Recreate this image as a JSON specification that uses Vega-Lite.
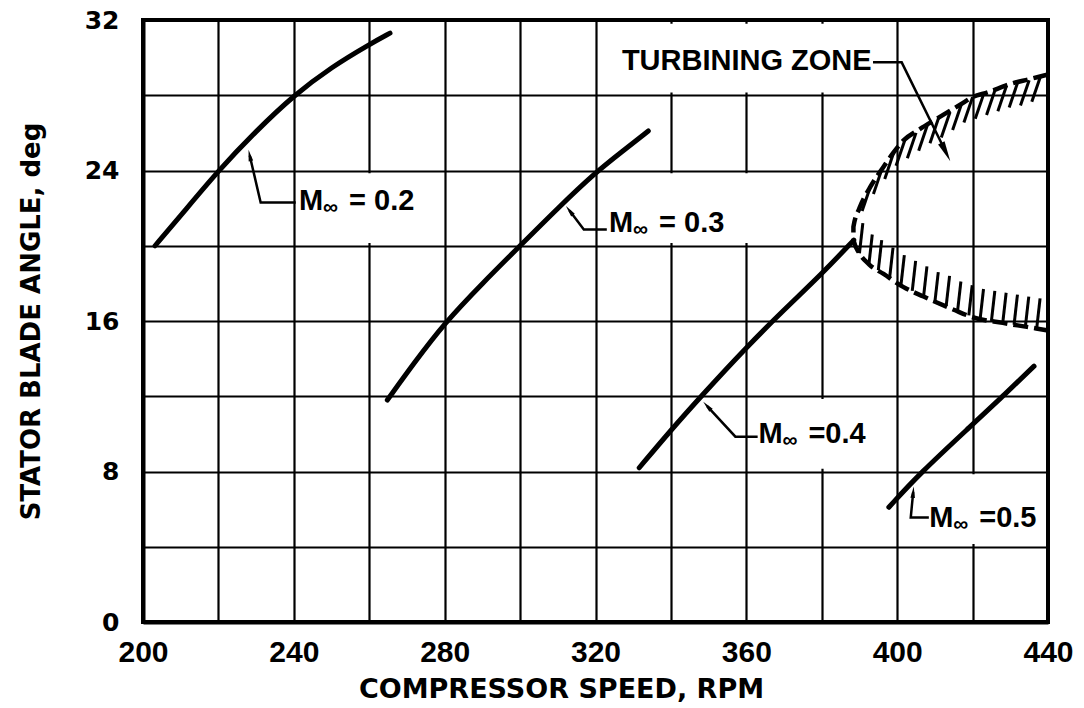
{
  "$schema": "https://vega.github.io/schema/vega-lite/v6.json",
  "width": 905,
  "height": 602,
  "autosize": {"type": "none"},
  "padding": {"left": 143, "top": 20, "right": 36, "bottom": 86},
  "background": "white",
  "config": {
    "view": {"stroke": "black", "strokeWidth": 4},
    "font": "Liberation Sans",
    "axis": {
      "grid": true, "gridColor": "black", "gridWidth": 2.2, "gridOpacity": 1,
      "ticks": false, "domain": true, "domainColor": "black", "domainWidth": 4,
      "labelFont": "Liberation Sans", "labelFontWeight": "bold", "labelColor": "black",
      "titleFont": "DejaVu Sans", "titleFontWeight": "bold", "titleColor": "black"
    }
  },
  "datasets": {
    "curves": [
      {"series": "0.2", "rpm": 203.2, "angle": 20.0},
      {"series": "0.2", "rpm": 210, "angle": 21.6},
      {"series": "0.2", "rpm": 220, "angle": 24.0},
      {"series": "0.2", "rpm": 230, "angle": 26.1},
      {"series": "0.2", "rpm": 240, "angle": 28.0},
      {"series": "0.2", "rpm": 250, "angle": 29.5},
      {"series": "0.2", "rpm": 260, "angle": 30.7},
      {"series": "0.2", "rpm": 265.5, "angle": 31.3},
      {"series": "0.3", "rpm": 264.8, "angle": 11.8},
      {"series": "0.3", "rpm": 272, "angle": 13.8},
      {"series": "0.3", "rpm": 280, "angle": 15.9},
      {"series": "0.3", "rpm": 290, "angle": 18.0},
      {"series": "0.3", "rpm": 300, "angle": 20.0},
      {"series": "0.3", "rpm": 310, "angle": 22.0},
      {"series": "0.3", "rpm": 320, "angle": 23.9},
      {"series": "0.3", "rpm": 327, "angle": 25.0},
      {"series": "0.3", "rpm": 334, "angle": 26.1},
      {"series": "0.4", "rpm": 331.6, "angle": 8.2},
      {"series": "0.4", "rpm": 340, "angle": 10.2},
      {"series": "0.4", "rpm": 348, "angle": 12.0},
      {"series": "0.4", "rpm": 360, "angle": 14.6},
      {"series": "0.4", "rpm": 370, "angle": 16.6},
      {"series": "0.4", "rpm": 380, "angle": 18.5},
      {"series": "0.4", "rpm": 388.5, "angle": 20.3},
      {"series": "0.5", "rpm": 397.8, "angle": 6.1},
      {"series": "0.5", "rpm": 406, "angle": 7.9},
      {"series": "0.5", "rpm": 420, "angle": 10.5},
      {"series": "0.5", "rpm": 428, "angle": 12.0},
      {"series": "0.5", "rpm": 436.3, "angle": 13.6}
    ],
    "zone": [
      {"i": 1, "rpm": 440, "angle": 29.1},
      {"i": 2, "rpm": 435, "angle": 28.85},
      {"i": 3, "rpm": 430, "angle": 28.6},
      {"i": 4, "rpm": 424, "angle": 28.15},
      {"i": 5, "rpm": 420, "angle": 27.9},
      {"i": 6, "rpm": 416.7, "angle": 27.5},
      {"i": 7, "rpm": 410.5, "angle": 26.75},
      {"i": 8, "rpm": 406, "angle": 26.2},
      {"i": 9, "rpm": 401.7, "angle": 25.6},
      {"i": 10, "rpm": 399, "angle": 24.95},
      {"i": 11, "rpm": 396.4, "angle": 24.2},
      {"i": 12, "rpm": 392.8, "angle": 23.1},
      {"i": 13, "rpm": 390, "angle": 22.0},
      {"i": 14, "rpm": 388.4, "angle": 21.0},
      {"i": 15, "rpm": 388.4, "angle": 20.3},
      {"i": 16, "rpm": 390, "angle": 19.6},
      {"i": 17, "rpm": 392.6, "angle": 19.0},
      {"i": 18, "rpm": 396.4, "angle": 18.5},
      {"i": 19, "rpm": 401.7, "angle": 17.8},
      {"i": 20, "rpm": 407, "angle": 17.3},
      {"i": 21, "rpm": 415, "angle": 16.6},
      {"i": 22, "rpm": 420, "angle": 16.2},
      {"i": 23, "rpm": 428, "angle": 15.9},
      {"i": 24, "rpm": 434, "angle": 15.7},
      {"i": 25, "rpm": 440, "angle": 15.5}
    ],
    "hatch": [
      {"rpm": 390.7, "angle": 21.85, "rpm2": 393, "angle2": 23.2},
      {"rpm": 393.7, "angle": 22.75, "rpm2": 396, "angle2": 24.1},
      {"rpm": 396.7, "angle": 23.55, "rpm2": 399, "angle2": 24.9},
      {"rpm": 399.7, "angle": 24.25, "rpm2": 402, "angle2": 25.6},
      {"rpm": 402.7, "angle": 24.65, "rpm2": 405, "angle2": 26.0},
      {"rpm": 405.7, "angle": 25.05, "rpm2": 408, "angle2": 26.4},
      {"rpm": 408.7, "angle": 25.45, "rpm2": 411, "angle2": 26.8},
      {"rpm": 411.7, "angle": 25.75, "rpm2": 414, "angle2": 27.1},
      {"rpm": 414.7, "angle": 26.15, "rpm2": 417, "angle2": 27.5},
      {"rpm": 417.7, "angle": 26.55, "rpm2": 420, "angle2": 27.9},
      {"rpm": 420.7, "angle": 26.75, "rpm2": 423, "angle2": 28.1},
      {"rpm": 423.7, "angle": 26.95, "rpm2": 426, "angle2": 28.3},
      {"rpm": 426.7, "angle": 27.15, "rpm2": 429, "angle2": 28.5},
      {"rpm": 429.7, "angle": 27.35, "rpm2": 432, "angle2": 28.7},
      {"rpm": 432.7, "angle": 27.45, "rpm2": 435, "angle2": 28.8},
      {"rpm": 435.7, "angle": 27.65, "rpm2": 438, "angle2": 29.0},
      {"rpm": 390, "angle": 19.6, "rpm2": 390.9, "angle2": 21.2},
      {"rpm": 392.5, "angle": 19.0, "rpm2": 393.4, "angle2": 20.6},
      {"rpm": 395, "angle": 18.7, "rpm2": 395.9, "angle2": 20.3},
      {"rpm": 398, "angle": 18.3, "rpm2": 398.9, "angle2": 19.9},
      {"rpm": 401, "angle": 17.9, "rpm2": 401.9, "angle2": 19.5},
      {"rpm": 404, "angle": 17.6, "rpm2": 404.9, "angle2": 19.2},
      {"rpm": 407, "angle": 17.3, "rpm2": 407.9, "angle2": 18.9},
      {"rpm": 410, "angle": 17.0, "rpm2": 410.9, "angle2": 18.6},
      {"rpm": 413, "angle": 16.8, "rpm2": 413.9, "angle2": 18.4},
      {"rpm": 416, "angle": 16.5, "rpm2": 416.9, "angle2": 18.1},
      {"rpm": 419, "angle": 16.3, "rpm2": 419.9, "angle2": 17.9},
      {"rpm": 422, "angle": 16.1, "rpm2": 422.9, "angle2": 17.7},
      {"rpm": 425, "angle": 16.0, "rpm2": 425.9, "angle2": 17.6},
      {"rpm": 428, "angle": 15.9, "rpm2": 428.9, "angle2": 17.5},
      {"rpm": 431, "angle": 15.8, "rpm2": 431.9, "angle2": 17.4},
      {"rpm": 434, "angle": 15.7, "rpm2": 434.9, "angle2": 17.3},
      {"rpm": 437, "angle": 15.6, "rpm2": 437.9, "angle2": 17.2}
    ],
    "masks": [
      {"rpm": 245, "rpm2": 275, "angle": 20.15, "angle2": 23.85},
      {"rpm": 325, "rpm2": 375, "angle": 20.15, "angle2": 23.85},
      {"rpm": 325, "rpm2": 395, "angle": 28.15, "angle2": 31.8},
      {"rpm": 365, "rpm2": 395, "angle": 8.15, "angle2": 11.85},
      {"rpm": 405, "rpm2": 435, "angle": 4.15, "angle2": 7.85}
    ],
    "labels": [
      {"rpm": 241.4, "angle": 22.4, "val": "= 0.2"},
      {"rpm": 323.6, "angle": 21.2, "val": "= 0.3"},
      {"rpm": 363.2, "angle": 10.0, "val": "=0.4"},
      {"rpm": 408.5, "angle": 5.55, "val": "=0.5"}
    ],
    "leaders": [
      {"id": "a", "i": 1, "rpm": 240.5, "angle": 22.3},
      {"id": "a", "i": 2, "rpm": 231.2, "angle": 22.3},
      {"id": "a", "i": 3, "rpm": 228.3, "angle": 24.8},
      {"id": "b", "i": 1, "rpm": 323.0, "angle": 20.87},
      {"id": "b", "i": 2, "rpm": 316.9, "angle": 20.87},
      {"id": "b", "i": 3, "rpm": 313.1, "angle": 21.87},
      {"id": "c", "i": 1, "rpm": 363.0, "angle": 9.85},
      {"id": "c", "i": 2, "rpm": 357.1, "angle": 9.85},
      {"id": "c", "i": 3, "rpm": 349.6, "angle": 11.48},
      {"id": "d", "i": 1, "rpm": 408.4, "angle": 5.55},
      {"id": "d", "i": 2, "rpm": 403.6, "angle": 5.55},
      {"id": "d", "i": 3, "rpm": 404.25, "angle": 6.9},
      {"id": "e", "i": 1, "rpm": 393.6, "angle": 29.75},
      {"id": "e", "i": 2, "rpm": 401.2, "angle": 29.75},
      {"id": "e", "i": 3, "rpm": 412.9, "angle": 24.98}
    ],
    "arrows": [
      {"id": "a", "rpm": 228.3, "angle": 24.8},
      {"id": "b", "rpm": 313.1, "angle": 21.87},
      {"id": "c", "rpm": 349.6, "angle": 11.48},
      {"id": "d", "rpm": 404.25, "angle": 6.9},
      {"id": "e", "rpm": 412.9, "angle": 24.98}
    ],
    "zonelabel": [
      {"rpm": 327, "angle": 29.8, "text": "TURBINING ZONE"}
    ]
  },
  "layer": [
    {
      "data": {"name": "masks"},
      "mark": {"type": "rect", "fill": "white", "stroke": null},
      "encoding": {
        "x": {
          "field": "rpm", "type": "quantitative",
          "scale": {"domain": [200, 440], "nice": false, "zero": false},
          "axis": {
            "values": [200, 220, 240, 260, 280, 300, 320, 340, 360, 380, 400, 420, 440],
            "labelExpr": "datum.value % 40 === 0 ? datum.label : ''",
            "labelFontSize": 30, "labelPadding": 15, "labelFlush": false,
            "title": "COMPRESSOR SPEED, RPM", "titleFontSize": 27, "titlePadding": 9,
            "titleX": 418
          }
        },
        "x2": {"field": "rpm2"},
        "y": {
          "field": "angle", "type": "quantitative",
          "scale": {"domain": [0, 32], "nice": false},
          "axis": {
            "values": [0, 4, 8, 12, 16, 20, 24, 28, 32],
            "labelExpr": "datum.value % 8 === 0 ? datum.label : ''",
            "labelFont": "DejaVu Sans", "labelFontSize": 25, "labelPadding": 24, "labelFlush": false,
            "title": "STATOR BLADE ANGLE, deg", "titleFontSize": 26, "titlePadding": 40
          }
        },
        "y2": {"field": "angle2"}
      }
    },
    {
      "data": {"name": "curves"},
      "mark": {"type": "line", "color": "black", "strokeWidth": 5, "interpolate": "basis", "strokeCap": "round"},
      "encoding": {
        "x": {"field": "rpm", "type": "quantitative"},
        "y": {"field": "angle", "type": "quantitative"},
        "detail": {"field": "series"}
      }
    },
    {
      "data": {"name": "zone"},
      "mark": {"type": "line", "color": "black", "strokeWidth": 4.5, "strokeDash": [15, 6], "interpolate": "monotone"},
      "encoding": {
        "x": {"field": "rpm", "type": "quantitative"},
        "y": {"field": "angle", "type": "quantitative"},
        "order": {"field": "i"}
      }
    },
    {
      "data": {"name": "hatch"},
      "mark": {"type": "rule", "color": "black", "strokeWidth": 3},
      "encoding": {
        "x": {"field": "rpm", "type": "quantitative"},
        "y": {"field": "angle", "type": "quantitative"},
        "x2": {"field": "rpm2"},
        "y2": {"field": "angle2"}
      }
    },
    {
      "data": {"name": "leaders"},
      "mark": {"type": "line", "color": "black", "strokeWidth": 2.5},
      "encoding": {
        "x": {"field": "rpm", "type": "quantitative"},
        "y": {"field": "angle", "type": "quantitative"},
        "detail": {"field": "id"},
        "order": {"field": "i"}
      }
    },
    {
      "data": {"name": "arrows"},
      "transform": [{"filter": "datum.id === 'a'"}],
      "mark": {"type": "point", "shape": "M0,-1L0.4,1L-0.4,1Z", "filled": true, "color": "black", "opacity": 1, "size": 130, "angle": 348},
      "encoding": {"x": {"field": "rpm", "type": "quantitative"}, "y": {"field": "angle", "type": "quantitative"}}
    },
    {
      "data": {"name": "arrows"},
      "transform": [{"filter": "datum.id === 'b'"}],
      "mark": {"type": "point", "shape": "M0,-1L0.4,1L-0.4,1Z", "filled": true, "color": "black", "opacity": 1, "size": 130, "angle": 322},
      "encoding": {"x": {"field": "rpm", "type": "quantitative"}, "y": {"field": "angle", "type": "quantitative"}}
    },
    {
      "data": {"name": "arrows"},
      "transform": [{"filter": "datum.id === 'c'"}],
      "mark": {"type": "point", "shape": "M0,-1L0.4,1L-0.4,1Z", "filled": true, "color": "black", "opacity": 1, "size": 130, "angle": 317},
      "encoding": {"x": {"field": "rpm", "type": "quantitative"}, "y": {"field": "angle", "type": "quantitative"}}
    },
    {
      "data": {"name": "arrows"},
      "transform": [{"filter": "datum.id === 'd'"}],
      "mark": {"type": "point", "shape": "M0,-1L0.4,1L-0.4,1Z", "filled": true, "color": "black", "opacity": 1, "size": 130, "angle": 5},
      "encoding": {"x": {"field": "rpm", "type": "quantitative"}, "y": {"field": "angle", "type": "quantitative"}}
    },
    {
      "data": {"name": "arrows"},
      "transform": [{"filter": "datum.id === 'e'"}],
      "mark": {"type": "point", "shape": "M0,-1L0.35,1L-0.35,1Z", "filled": true, "color": "black", "opacity": 1, "size": 420, "angle": 154},
      "encoding": {"x": {"field": "rpm", "type": "quantitative"}, "y": {"field": "angle", "type": "quantitative"}}
    },
    {
      "data": {"name": "labels"},
      "mark": {"type": "text", "align": "left", "baseline": "middle", "font": "Liberation Sans", "fontWeight": "bold", "fontSize": 29, "color": "black"},
      "encoding": {
        "x": {"field": "rpm", "type": "quantitative"},
        "y": {"field": "angle", "type": "quantitative"},
        "text": {"value": "M"}
      }
    },
    {
      "data": {"name": "labels"},
      "mark": {"type": "text", "align": "left", "baseline": "middle", "font": "Liberation Sans", "fontWeight": "bold", "fontSize": 21, "dx": 24, "dy": 7, "color": "black"},
      "encoding": {
        "x": {"field": "rpm", "type": "quantitative"},
        "y": {"field": "angle", "type": "quantitative"},
        "text": {"value": "∞"}
      }
    },
    {
      "data": {"name": "labels"},
      "mark": {"type": "text", "align": "left", "baseline": "middle", "font": "Liberation Sans", "fontWeight": "bold", "fontSize": 29, "dx": 50, "color": "black"},
      "encoding": {
        "x": {"field": "rpm", "type": "quantitative"},
        "y": {"field": "angle", "type": "quantitative"},
        "text": {"field": "val"}
      }
    },
    {
      "data": {"name": "zonelabel"},
      "mark": {"type": "text", "align": "left", "baseline": "middle", "font": "Liberation Sans", "fontWeight": "bold", "fontSize": 29, "color": "black"},
      "encoding": {
        "x": {"field": "rpm", "type": "quantitative"},
        "y": {"field": "angle", "type": "quantitative"},
        "text": {"field": "text"}
      }
    }
  ]
}
